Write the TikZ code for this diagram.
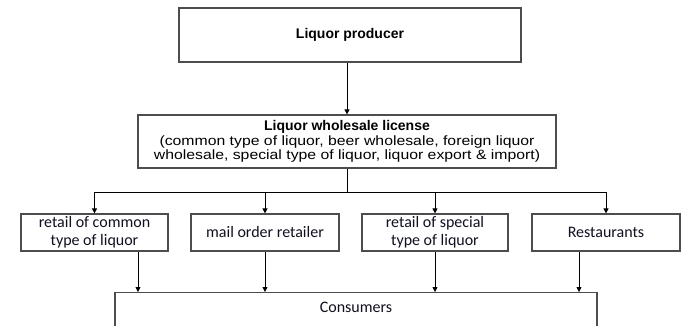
\documentclass[tikz,border=0pt]{standalone}
\usepackage{fontspec}
\setmainfont{Liberation Sans}
\newfontfamily\widefont[FakeStretch=1.17]{Liberation Sans}
\newfontfamily\retailfont{Carlito}
\usepackage{tikz}
\usepackage{xcolor}
\usetikzlibrary{
    arrows.meta,
    calc,
    positioning
}
\definecolor{boxgray}{HTML}{4D4D4D}
\definecolor{textdark}{HTML}{101020}
\tikzset{toplevel/.style={draw=boxgray, line width=1.2pt, fill=white, inner sep=0pt, align=center}}
\tikzset{shopbox/.style={draw=boxgray, line width=1.2pt, fill=white, inner sep=0pt, align=center,
    minimum height=37pt, text=textdark, font=\retailfont\fontsize{16}{18}\selectfont}}
\tikzset{flow/.style={draw=black, line width=0.8pt, -{Triangle[length=5pt,width=5pt]}}}

\begin{document}
\begin{tikzpicture}[x=1pt, y=-1pt]
                        \useasboundingbox (0,0) rectangle (685,326);
                        \clip (0,0) rectangle (685,326);

                        \node[toplevel, minimum width=342pt, minimum height=54pt,
                            font=\bfseries\fontsize{14}{16}\selectfont] (prod) at (350, 35) {Liquor producer};
                        \node[toplevel, minimum width=418pt, minimum height=53pt,
                            font=\widefont\fontsize{13.5}{14.5}\selectfont] (whole) at (347, 141.5)
                            {{\setmainfont{Liberation Sans}\fontsize{14}{14.5}\selectfont\bfseries Liquor wholesale license}\\(common type of liquor, beer wholesale, foreign liquor\\wholesale, special type of liquor, liquor export \& import)};

                        \node[shopbox, minimum width=147pt] (ret1) at (94.5, 232.5) {retail of common\\type of liquor};
                        \node[shopbox, minimum width=148pt] (mail) at (265, 232.5) {mail order retailer};
                        \node[shopbox, minimum width=146pt] (ret2) at (435, 232.5) {retail of special\\type of liquor};
                        \node[shopbox, minimum width=148pt] (rest) at (606, 232.5) {Restaurants};

                        \node[toplevel, minimum width=482pt, minimum height=70pt, anchor=north] (cons) at (356, 292) {};
                        \node[text=textdark, font=\retailfont\fontsize{16}{18}\selectfont] (constxt) at (356, 307) {Consumers};

                        \coordinate (bus) at (347, 192);
                        \coordinate (d1) at ([xshift=43.5pt]ret1.south);
                        \coordinate (d4) at ([xshift=-27pt]rest.south);

                        \draw[flow] (whole |- prod.south) -- (whole);
                        \draw[line width=0.8pt] (whole) -- (bus);
                        \draw[flow] (bus) -| (ret1.north);
                        \draw[flow] (bus) -| (mail.north);
                        \draw[flow] (bus) -| (ret2.north);
                        \draw[flow] (bus) -| (rest.north);

                        \draw[flow] (d1) -- (d1 |- cons.north);
                        \draw[flow] (mail) -- (mail |- cons.north);
                        \draw[flow] (ret2) -- (ret2 |- cons.north);
                        \draw[flow] (d4) -- (d4 |- cons.north);
                    \end{tikzpicture}
\end{document}
